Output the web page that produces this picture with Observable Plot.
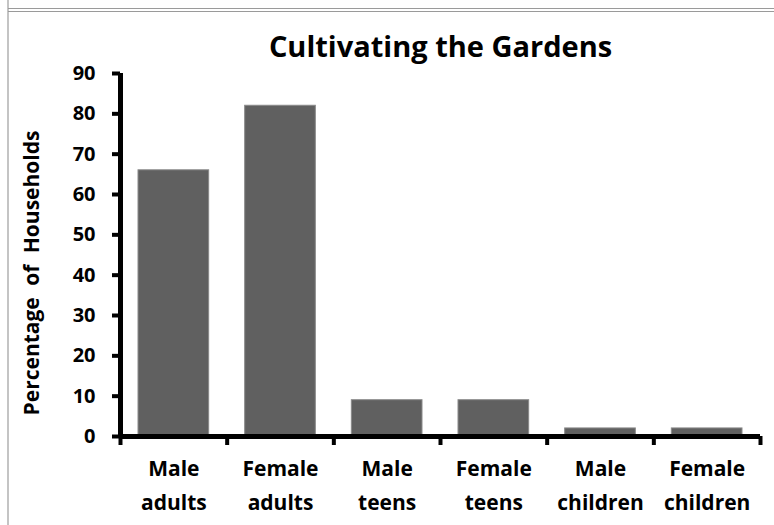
<!DOCTYPE html>
<html>
<head>
<meta charset="utf-8">
<script src="https://cdn.jsdelivr.net/npm/d3@7"></script>
<script src="https://cdn.jsdelivr.net/npm/@observablehq/plot@0.6"></script>
<style>
  html, body { margin: 0; padding: 0; background: #fff; }
  #wrap { position: relative; width: 774px; height: 525px; overflow: hidden; }
  .vline { position: absolute; left: 7px; top: 0; width: 2px; height: 525px; background: #c4c4c4; }
  .hline { position: absolute; left: 8px; right: 0; height: 1px; background: #9a9a9a; }
  #chart { position: absolute; left: 0; top: 0; }
  #chart svg { font-family: "Open Sans", Lato, sans-serif; }
  .ylab text { word-spacing: 6px; }
</style>
</head>
<body>
<div id="wrap">
  <div id="chart"></div>
  <div class="vline"></div>
  <div class="hline" style="top:8px"></div>
  <div class="hline" style="top:11px"></div>
</div>
<script>
const title = "Cultivating the Gardens";
const yLabel = "Percentage of Households";
const categories = ["Male\nadults", "Female\nadults", "Male\nteens", "Female\nteens", "Male\nchildren", "Female\nchildren"];
const values = [66, 82, 9, 9, 2, 2];
const yTicks = [0, 10, 20, 30, 40, 50, 60, 70, 80, 90];

const data = categories.map((c, i) => ({category: c, index: i, value: values[i]}));
const boundaries = d3.range(categories.length + 1);
const centers = categories.map((c, i) => i + 0.5);

const chart = Plot.plot({
  width: 774,
  height: 525,
  marginLeft: 120,
  marginRight: 14,
  marginTop: 73,
  marginBottom: 89,
  style: {background: "transparent", fontFamily: "'Open Sans', Lato, sans-serif", color: "#000"},
  x: {domain: [0, categories.length]},
  y: {domain: [0, 90]},
  marks: [
    Plot.rectY(data, {
      x1: "index",
      x2: d => d.index + 1,
      y: "value",
      insetLeft: 18,
      insetRight: 18,
      fill: "#606060",
      stroke: "#8a8a8a",
      strokeWidth: 1
    }),
    Plot.axisY({
      ticks: yTicks,
      tickSize: 8,
      tickPadding: 17,
      strokeWidth: 4,
      stroke: "#000",
      fontSize: 20,
      fontWeight: "bold",
      fill: "#000",
      label: null
    }),
    Plot.axisX({
      ticks: boundaries,
      tickSize: 9,
      strokeWidth: 4,
      stroke: "#000",
      tickFormat: () => "",
      label: null
    }),
    Plot.axisX({
      ticks: centers,
      tickSize: 0,
      tickPadding: 16,
      fontSize: 21,
      fontWeight: "bold",
      fill: "#000",
      lineHeight: 1.6,
      tickFormat: d => categories[Math.floor(d)],
      label: null
    }),
    Plot.ruleY([0], {strokeWidth: 5, stroke: "#000"}),
    Plot.ruleX([0], {y1: 0, y2: 90, strokeWidth: 5, stroke: "#000"}),
    Plot.text([title], {
      frameAnchor: "top",
      lineAnchor: "middle",
      dy: -26,
      fontSize: 29,
      fontWeight: "bold",
      fill: "#000"
    }),
    Plot.text([yLabel], {
      frameAnchor: "left",
      textAnchor: "middle",
      lineAnchor: "top",
      rotate: -90,
      dx: -96,
      dy: 18,
      fontSize: 21,
      fontWeight: "bold",
      fill: "#000",
      className: "ylab"
    })
  ]
});
document.getElementById("chart").appendChild(chart);
</script>
</body>
</html>
